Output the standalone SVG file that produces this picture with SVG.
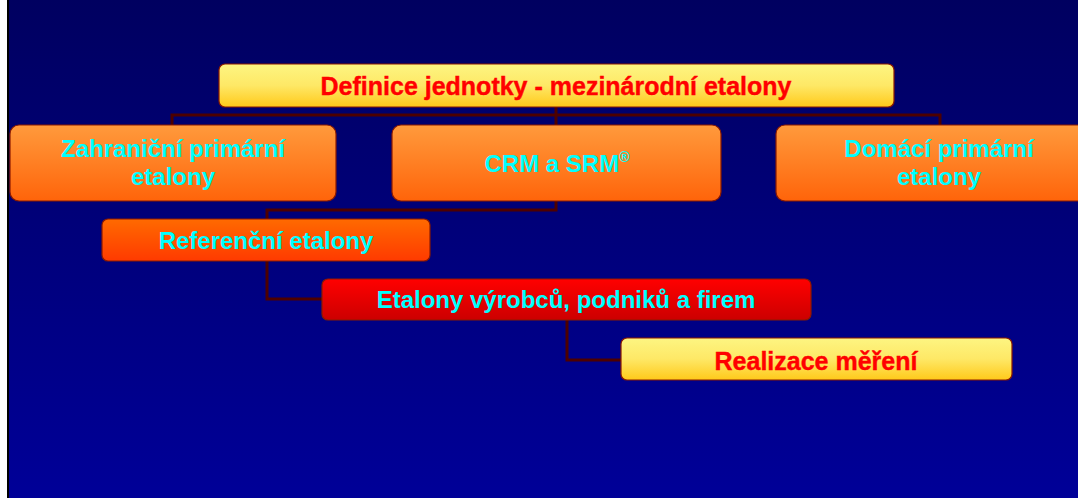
<svg xmlns="http://www.w3.org/2000/svg" width="1078" height="498" viewBox="0 0 1078 498">
<style>
.box{stroke:#8b1a00;stroke-width:1.2}
.red{font-family:"Liberation Sans",Arial,sans-serif;font-weight:bold;font-size:25px;fill:#ff0000;stroke:#ff0000;stroke-width:0.4;text-anchor:middle}
.cy{font-family:"Liberation Sans",Arial,sans-serif;font-weight:bold;font-size:24px;fill:#00ffff;text-anchor:middle}
.con{fill:none;stroke:#4d0000;stroke-width:3}
</style>
<defs>
<linearGradient id="bg" x1="0" y1="0" x2="0" y2="1"><stop offset="0" stop-color="#000060"/><stop offset="1" stop-color="#000098"/></linearGradient>
<linearGradient id="yel" x1="0" y1="0" x2="0" y2="1"><stop offset="0" stop-color="#fdf582"/><stop offset="0.5" stop-color="#fee866"/><stop offset="1" stop-color="#ffc91a"/></linearGradient>
<linearGradient id="org" x1="0" y1="0" x2="0" y2="1"><stop offset="0" stop-color="#ff9a3c"/><stop offset="1" stop-color="#ff640a"/></linearGradient>
<linearGradient id="ref" x1="0" y1="0" x2="0" y2="1"><stop offset="0" stop-color="#ff6a00"/><stop offset="1" stop-color="#ff3a00"/></linearGradient>
<linearGradient id="rd" x1="0" y1="0" x2="0" y2="1"><stop offset="0" stop-color="#ff0000"/><stop offset="1" stop-color="#cc0000"/></linearGradient>
</defs>
<rect x="0" y="0" width="1078" height="498" fill="#ffffff"/>
<rect x="8" y="0" width="1070" height="498" fill="url(#bg)"/>
<rect x="7" y="0" width="2" height="498" fill="#000000"/>
<g id="connectors">
<path class="con" d="M172,125 V115 H940 V125"/>
<path class="con" d="M556,107 V210 H267 V219"/>
<path class="con" d="M267,261 V299 H322"/>
<path class="con" d="M567,320 V360 H621"/>
</g>
<g id="node-definice">
<rect class="box" x="219" y="64" width="675" height="43" rx="6" fill="url(#yel)"/>
<text class="red" x="556" y="95">Definice jednotky - mezinárodní etalony</text>
</g>
<g id="node-zahranicni">
<rect class="box" x="10" y="125" width="326" height="76" rx="9" fill="url(#org)"/>
<text class="cy" x="173" y="157">Zahraniční primární</text>
<text class="cy" x="173" y="185">etalony</text>
</g>
<g id="node-crm">
<rect class="box" x="392" y="125" width="329" height="76" rx="9" fill="url(#org)"/>
<text class="cy" x="557" y="172">CRM a SRM<tspan font-size="14" dy="-10">®</tspan></text>
</g>
<g id="node-domaci">
<rect class="box" x="776" y="125" width="327" height="76" rx="9" fill="url(#org)"/>
<text class="cy" x="939" y="157">Domácí primární</text>
<text class="cy" x="939" y="185">etalony</text>
</g>
<g id="node-referencni">
<rect class="box" x="102" y="219" width="328" height="42" rx="6" fill="url(#ref)"/>
<text class="cy" x="266" y="249">Referenční etalony</text>
</g>
<g id="node-etalony">
<rect class="box" x="322" y="279" width="489" height="41" rx="6" fill="url(#rd)"/>
<text class="cy" x="566" y="308">Etalony výrobců, podniků a firem</text>
</g>
<g id="node-realizace">
<rect class="box" x="621" y="338" width="391" height="42" rx="6" fill="url(#yel)"/>
<text class="red" x="816" y="370">Realizace měření</text>
</g>
</svg>
